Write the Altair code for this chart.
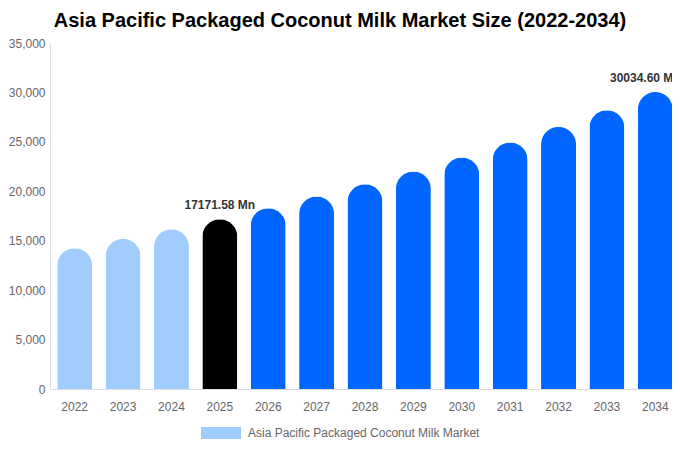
import altair as alt
import pandas as pd

# market size (USD Mn)
years = ["2022", "2023", "2024", "2025", "2026", "2027", "2028",
         "2029", "2030", "2031", "2032", "2033", "2034"]
values = [14240, 15180, 16160, 17171.58, 18280, 19470, 20710,
          22000, 23410, 24930, 26510, 28200, 30034.60]
bar_colors = ["#a0cdfd"] * 3 + ["#000000"] + ["#0066ff"] * 9
labels = ["", "", "", "17171.58 Mn", "", "", "", "", "", "", "", "", "30034.60 Mn"]

df = pd.DataFrame({
    "year": years,
    "value": values,
    "fill": bar_colors,
    "label": labels,
    "series": "Asia Pacific Packaged Coconut Milk Market",
})

# x range runs a little past the svg edge, like the cut-off reference
base = alt.Chart(df).encode(
    x=alt.X("year:N", sort=years, title=None,
            scale=alt.Scale(range=[0, 630], paddingInner=0.28, paddingOuter=0.15),
            axis=alt.Axis(labelAngle=0, ticks=False, labelPadding=12,
                          domainColor="#dddddd", labelColor="#666666",
                          labelFontSize=12, labelFont="Liberation Sans")),
)

yenc = alt.Y("value:Q", title=None,
             scale=alt.Scale(domain=[0, 35000], nice=False),
             axis=alt.Axis(values=list(range(0, 35001, 5000)), format=",.0f", grid=False,
                           ticks=False, labelPadding=5, domainColor="#dddddd",
                           labelColor="#666666", labelFontSize=12,
                           labelFont="Liberation Sans"))

bars = base.mark_bar(size=35, cornerRadiusTopLeft=17.5, cornerRadiusTopRight=17.5).encode(
    y=yenc,
    color=alt.Color("fill:N", scale=None),
)

# invisible layer that only carries the legend
legend_layer = base.mark_square(opacity=0, filled=True).encode(
    y=alt.Y("value:Q"),
    color=alt.Color("series:N", title=None,
                    scale=alt.Scale(range=["#a0cdfd"]),
                    legend=alt.Legend(orient="none", legendX=151, legendY=370,
                                      direction="horizontal", labelLimit=400,
                                      symbolType="M-1,-0.3L1,-0.3L1,0.3L-1,0.3Z",
                                      symbolSize=1600, symbolStrokeWidth=0,
                                      symbolOpacity=1, symbolFillColor="#a0cdfd",
                                      labelOffset=7,
                                      labelColor="#666666", labelFontSize=12,
                                      labelFont="Liberation Sans")),
)

label_style = dict(baseline="bottom", dy=-7, fontWeight="bold", fontSize=12,
                   font="Liberation Sans", color="#333333")

text_2025 = base.mark_text(**label_style).encode(
    y=alt.Y("value:Q"), text="label:N",
).transform_filter(alt.datum.year == "2025")

# last label nudged left so it is not lost at the right edge
text_2034 = base.mark_text(dx=-10, **label_style).encode(
    y=alt.Y("value:Q"), text="label:N",
).transform_filter(alt.datum.year == "2034")

chart = (bars + legend_layer + text_2025 + text_2034).properties(
    width=622,
    height=346,
    autosize=alt.AutoSizeParams(type="none"),
    padding={"left": 42, "top": 35, "right": 0, "bottom": 57},
    title=alt.TitleParams("Asia Pacific Packaged Coconut Milk Market Size (2022-2034)",
                          fontSize=20, fontWeight="bold", color="#000000",
                          font="Liberation Sans", dx=-21, offset=6),
).configure_view(stroke=None)

chart.save("out.html", embed_options={"renderer": "svg", "actions": False})
